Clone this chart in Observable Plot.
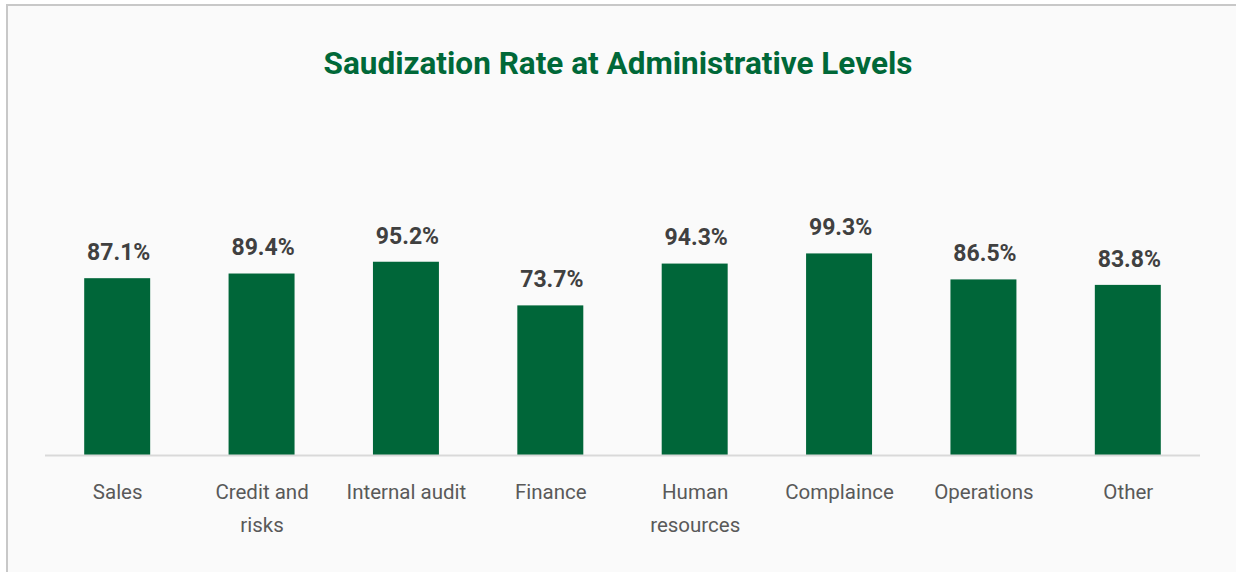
<!DOCTYPE html>
<html>
<head>
<meta charset="utf-8">
<script src="https://cdn.jsdelivr.net/npm/d3@7"></script>
<script src="https://cdn.jsdelivr.net/npm/@observablehq/plot@0.6"></script>
<style>
  html, body { margin: 0; padding: 0; background: #ffffff; width: 1236px; height: 572px; overflow: hidden; }
  #frame { position: absolute; left: 6px; top: 4px; width: 1260px; height: 600px; border-left: 2px solid #c8c8c8; border-top: 2px solid #c8c8c8; background: #fafafa; }
  #title { position: absolute; left: 0; top: 46px; width: 1236px; text-align: center; font-family: Roboto, sans-serif; font-weight: 700; font-size: 31.5px; color: #006838; line-height: 36px; }
  #chart { position: absolute; left: 0; top: 0; }
</style>
</head>
<body>
<div id="frame"></div>
<div id="title">Saudization Rate at Administrative Levels</div>
<div id="chart"></div>
<script>
const categories = ["Sales", "Credit and risks", "Internal audit", "Finance", "Human resources", "Complaince", "Operations", "Other"];
const tickLabels = ["Sales", "Credit and\nrisks", "Internal audit", "Finance", "Human\nresources", "Complaince", "Operations", "Other"];
const rates = [87.1, 89.4, 95.2, 73.7, 94.3, 99.3, 86.5, 83.8];

const data = categories.map((c, i) => ({category: c, rate: rates[i]}));
const labelOf = new Map(categories.map((c, i) => [c, tickLabels[i]]));

const plot = Plot.plot({
  width: 1236,
  height: 572,
  marginLeft: 45,
  marginRight: 36,
  marginTop: 252,
  marginBottom: 117,
  style: {background: "transparent", fontFamily: "Roboto, sans-serif", overflow: "visible"},
  x: {domain: categories, paddingInner: 0.543, paddingOuter: 0.2715, round: false, label: null},
  y: {domain: [0, 100], axis: null},
  marks: [
    Plot.barY(data, {x: "category", y: "rate", fill: "#006639"}),
    Plot.ruleY([0], {stroke: "#d9d9d9", strokeWidth: 2}),
    Plot.text(data, {x: "category", y: "rate", text: d => d.rate.toFixed(1) + "%", dx: 1, dy: -26, fontSize: 23, fontWeight: 700, fill: "#404040", style: {letterSpacing: "2px"}}),
    Plot.axisX({tickSize: 0, tickPadding: 21, fontSize: 20.5, lineHeight: 1.58, tickFormat: d => labelOf.get(d), fill: "#595959", label: null, lineWidth: 100})
  ]
});
document.getElementById("chart").appendChild(plot);
</script>
</body>
</html>
